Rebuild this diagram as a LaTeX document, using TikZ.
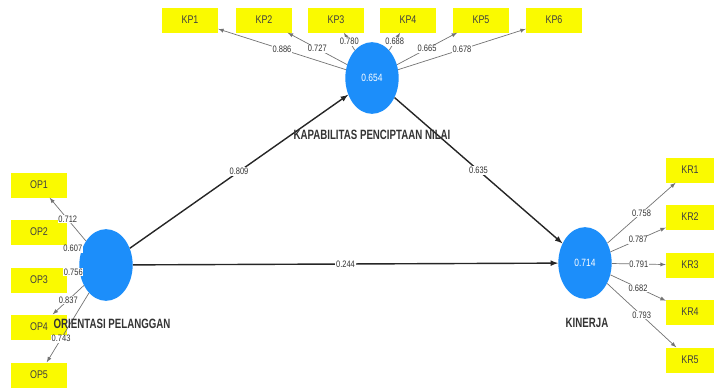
\documentclass[tikz,border=0pt]{standalone}
\usepackage{fontspec}
\setmainfont{Liberation Sans}
\newfontfamily\narrowfont[FakeStretch=0.8]{Liberation Sans}
\newfontfamily\namefont[FakeStretch=0.72]{Liberation Sans}
\usetikzlibrary{shapes.geometric}

\definecolor{lvblue}{RGB}{28,142,250}
\definecolor{mvyellow}{RGB}{250,250,0}

\begin{document}
\begin{tikzpicture}[x=0.03cm, y=-0.03cm, >=latex,
  mv/.style={fill=mvyellow, minimum width=1.68cm, minimum height=0.75cm,
    inner sep=0pt, text=black!75, font=\narrowfont\fontsize{9.5}{10}\selectfont},
  lv/.style={ellipse, fill=lvblue, minimum width=1.6cm, minimum height=2.15cm,
    inner sep=0pt, text=white, font=\narrowfont\fontsize{9}{10}\selectfont},
  lvname/.style={text=black!80, font=\namefont\bfseries\fontsize{11.5}{12}\selectfont},
  load/.style={draw=black!55, line width=0.6pt, ->},
  struct/.style={draw=black!85, line width=1.2pt, ->},
  coef/.style={fill=white, inner sep=0.6pt, text=black!80,
    font=\narrowfont\fontsize{8}{8}\selectfont}]

  \useasboundingbox (0,0) rectangle (714,388);

  % latent variables
  \node[lv] (kp) at (372,78) {0.654};
  \node[lv] (op) at (106,265) {};
  \node[lv] (kr) at (585,263) {0.714};

  % indicators
  \node[mv] (kp1) at (190,20) {KP1};
  \node[mv] (kp2) at (264,20) {KP2};
  \node[mv] (kp3) at (336,20) {KP3};
  \node[mv] (kp4) at (408,20) {KP4};
  \node[mv] (kp5) at (481,20) {KP5};
  \node[mv] (kp6) at (554,20) {KP6};

  \node[mv] (op1) at (39,185) {OP1};
  \node[mv] (op2) at (39,232) {OP2};
  \node[mv] (op3) at (39,280) {OP3};
  \node[mv] (op4) at (39,327) {OP4};
  \node[mv] (op5) at (39,375) {OP5};

  \node[mv, minimum width=1.44cm] (kr1) at (690,170) {KR1};
  \node[mv, minimum width=1.44cm] (kr2) at (690,217) {KR2};
  \node[mv, minimum width=1.44cm] (kr3) at (690,265) {KR3};
  \node[mv, minimum width=1.44cm] (kr4) at (690,312) {KR4};
  \node[mv, minimum width=1.44cm] (kr5) at (690,360) {KR5};

  % outer loadings
  \draw[load] (kp) -- node[coef] {0.886} (kp1);
  \draw[load] (kp) -- node[coef] {0.727} (kp2);
  \draw[load] (kp) -- node[coef] {0.780} (kp3);
  \draw[load] (kp) -- node[coef] {0.688} (kp4);
  \draw[load] (kp) -- node[coef] {0.665} (kp5);
  \draw[load] (kp) -- node[coef] {0.678} (kp6);

  \draw[load] (op) -- node[coef] {0.712} (op1);
  \draw[load] (op) -- node[coef] {0.607} (op2);
  \draw[load] (op) -- node[coef] {0.756} (op3);
  \draw[load] (op) -- node[coef] {0.837} (op4);
  \draw[load] (op) -- node[coef, pos=0.66] {0.743} (op5);

  \draw[load] (kr) -- node[coef] {0.758} (kr1);
  \draw[load] (kr) -- node[coef] {0.787} (kr2);
  \draw[load] (kr) -- node[coef] {0.791} (kr3);
  \draw[load] (kr) -- node[coef] {0.682} (kr4);
  \draw[load] (kr) -- node[coef] {0.793} (kr5);

  % path coefficients
  \draw[struct] (op) -- node[coef] {0.809} (kp);
  \draw[struct] (kp) -- node[coef] {0.635} (kr);
  \draw[struct] (op) -- node[coef] {0.244} (kr);

  \node[lvname] (kpname) at (372,135) {KAPABILITAS PENCIPTAAN NILAI};
  \node[lvname] (opname) at (112,324) {ORIENTASI PELANGGAN};
  \node[lvname] (krname) at (587,323) {KINERJA};

\end{tikzpicture}
\end{document}
